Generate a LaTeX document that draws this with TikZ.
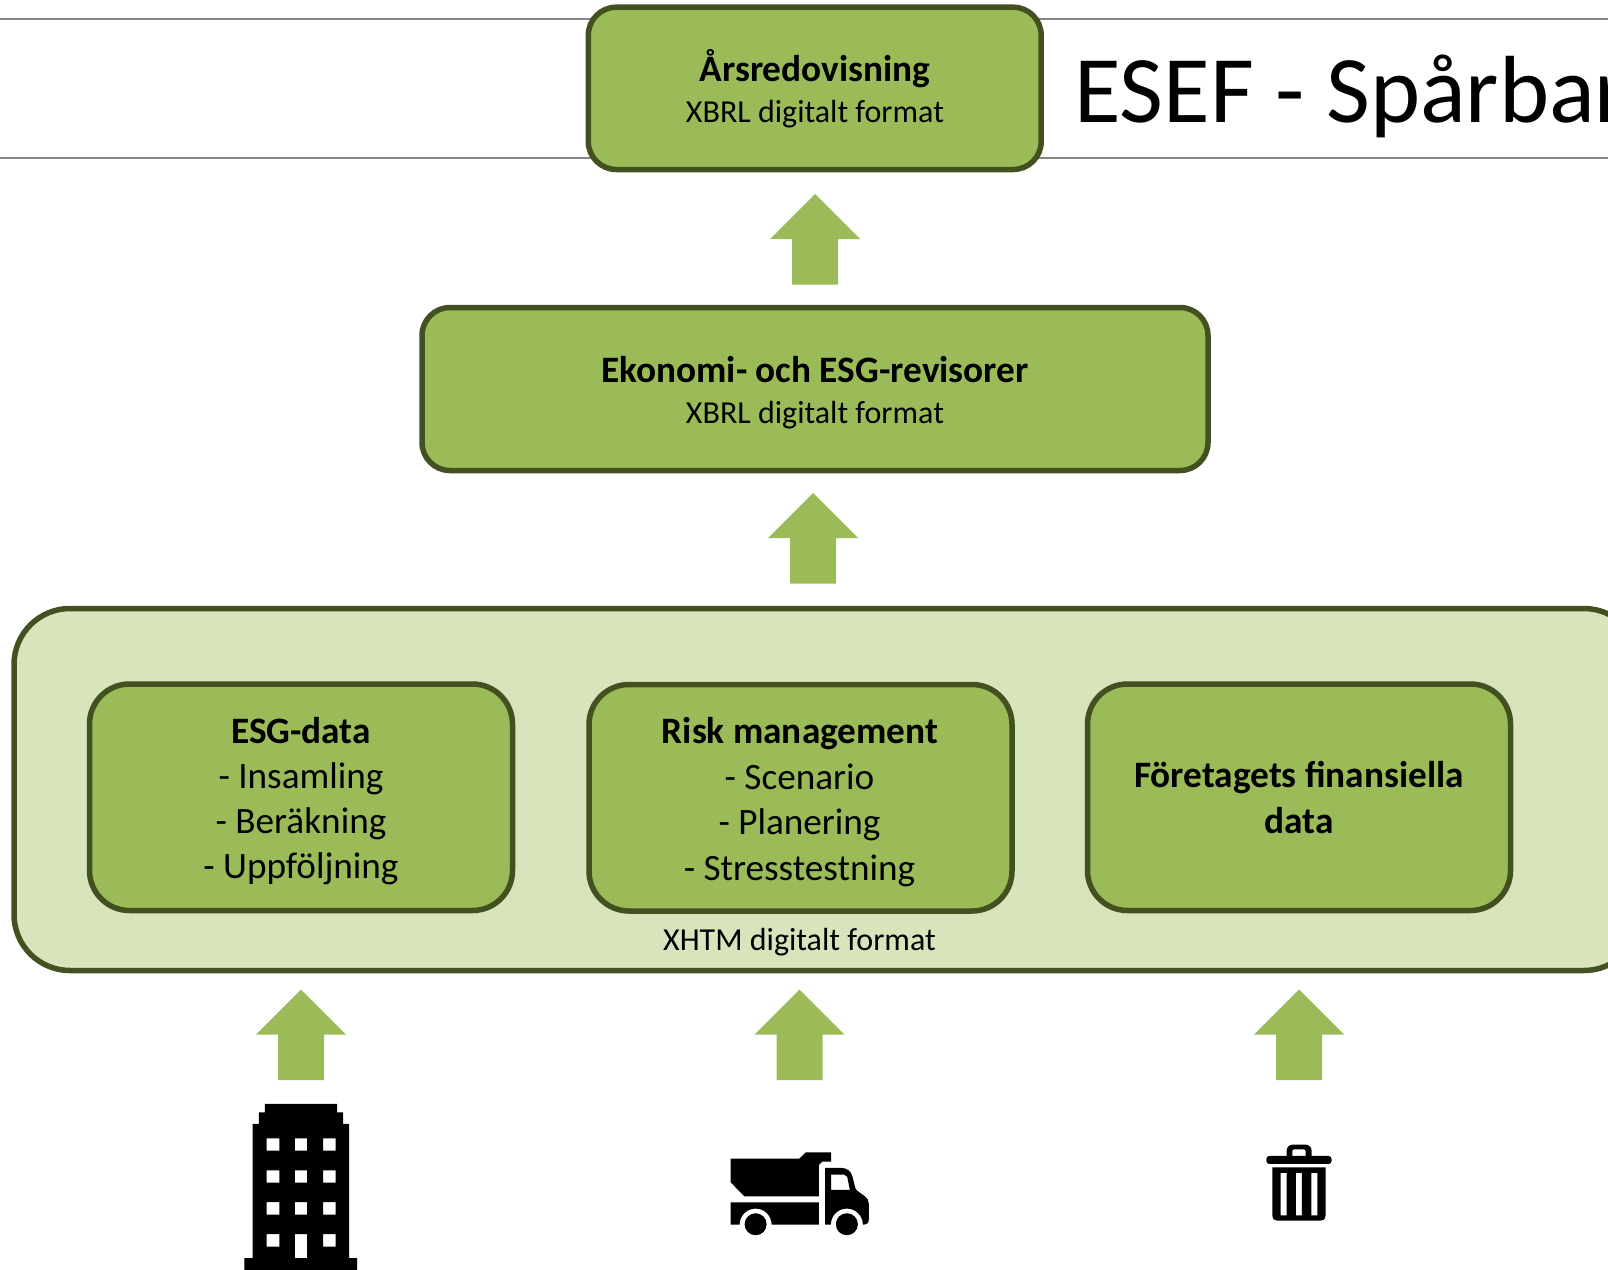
\documentclass[tikz,border=0pt]{standalone}
\usepackage{fontspec}
\setmainfont{Carlito}
\definecolor{leaf}{HTML}{9BBB59}
\definecolor{bark}{HTML}{435020}
\definecolor{pale}{HTML}{D8E4BC}
\definecolor{rulegray}{HTML}{868686}
\tikzset{
 x=1pt,y=-1pt,
 card/.style={draw=bark,line width=5.5pt,fill=leaf,rounded corners=28pt},
 tallcard/.style={draw=bark,line width=5.5pt,fill=leaf,rounded corners=40pt},
 panel/.style={draw=bark,line width=5.5pt,fill=pale,rounded corners=56pt},
 head/.style={anchor=base,inner sep=0pt,font=\fontsize{37.3}{44}\selectfont\bfseries},
 body/.style={anchor=base,inner sep=0pt,font=\fontsize{37.2}{44}\selectfont},
 small/.style={anchor=base,inner sep=0pt,font=\fontsize{32}{38}\selectfont},
 uparrow/.pic={\fill[leaf] (0,0) -- (45,45) -- (23,45) -- (23,90.5) -- (-23,90.5) -- (-23,45) -- (-45,45) -- cycle;},
}
\begin{document}
\begin{tikzpicture}
\useasboundingbox (0,0) rectangle (1608,1269);
\clip (0,0) rectangle (1608,1269);
\coordinate (rl1) at (0,19); \coordinate (rr1) at (1608,19);
\coordinate (rl2) at (0,158); \coordinate (rr2) at (1608,158);
\draw[rulegray,line width=2pt] (rl1) -- (rr1);
\draw[rulegray,line width=2pt] (rl2) -- (rr2);
\node[anchor=base west,inner sep=0pt,font=\fontsize{95.4}{110}\selectfont] (title) at (1074,122) {ESEF - Spårbar};
% top box
\draw[card] (588.3,7.2) rectangle (1041.2,169.5);
\node[head] (t1) at (815,81.5) {Årsredovisning};
\node[small] (t2) at (815,122) {XBRL digitalt format};
\pic at (815,194) {uparrow};
% second box
\draw[card] (422,307.5) rectangle (1208,470.5);
\node[head] (e1) at (815,382.5) {Ekonomi- och ESG-revisorer};
\node[small] (e2) at (815,423) {XBRL digitalt format};
\pic at (813,493) {uparrow};
% panel
\draw[panel] (14,608.5) rectangle (1640,970.5);
\draw[tallcard] (89.5,684) rectangle (512.5,910.5);
\draw[tallcard] (589,684.5) rectangle (1012,911);
\draw[tallcard] (1087.5,684) rectangle (1510.5,910.5);
\node[head] (a1) at (301,743.5) {ESG-data};
\node[body] (a2) at (301,788) {- Insamling};
\node[body] (a3) at (301,833) {- Beräkning};
\node[body] (a4) at (301,878.5) {- Uppföljning};
\node[head] (b1) at (800,743.5) {Risk management};
\node[body] (b2) at (799.5,789) {- Scenario};
\node[body] (b3) at (799.5,834) {- Planering};
\node[body] (b4) at (799.5,880) {- Stresstestning};
\node[head] (c1) at (1299,787.5) {Företagets finansiella};
\node[head] (c2) at (1299,833) {data};
\node[small] (x1) at (799.5,950) {XHTM digitalt format};
\pic at (301,989.5) {uparrow};
\pic at (799.5,989.5) {uparrow};
\pic at (1299,989.5) {uparrow};
% building
\begin{scope}[shift={(200,1080)},x=0.333pt,y=-0.333pt]
\fill[black,even odd rule]
 (195,72) -- (412,72) -- (412,97) -- (430,97) -- (430,132) -- (448,132) -- (448,535) -- (472,535) -- (472,580) -- (133,580) -- (133,535) -- (158,535) -- (158,132) -- (177,132) -- (177,97) -- (195,97) -- cycle
 (200,175) rectangle (238,212) (285,175) rectangle (322,212) (370,175) rectangle (407,212)
 (200,271) rectangle (238,308) (285,271) rectangle (322,308) (370,271) rectangle (407,308)
 (200,367) rectangle (238,404) (285,367) rectangle (322,404) (370,367) rectangle (407,404)
 (200,463) rectangle (238,500) (285,463) rectangle (322,535) (370,463) rectangle (407,500);
\end{scope}
% truck
\begin{scope}[shift={(710,1130)},x=0.333pt,y=-0.333pt]
\fill[black] (62,86) -- (268,86) -- (288,67) -- (364,67) -- (364,95) -- (337,95) -- (327,105) -- (327,199) -- (103,199) -- (62,157) -- cycle;
\fill[black] (62,217) -- (327,217) -- (327,284) -- (185,284) arc[start angle=0,end angle=180,radius=16pt] -- (62,284) -- cycle;
\fill[black] (137,283) circle[radius=11pt];
\fill[black,even odd rule] (346,114) -- (395,114) .. controls (412,114) and (424,124) .. (428,140) -- (434,165) .. controls (436,178) and (440,182) .. (447,186) -- (465,199) .. controls (473,205) and (477,212) .. (477,222) -- (477,268) .. controls (477,278) and (472,284) .. (462,284) -- (459,284) arc[start angle=0,end angle=180,radius=16pt] -- (346,284) -- cycle
 (364,134) -- (403,134) -- (412,140) -- (420,180) -- (364,180) -- cycle;
\fill[black] (411,283) circle[radius=11pt];
\end{scope}
% bin
\begin{scope}[shift={(1240,1130)},x=0.333pt,y=-0.333pt]
\fill[black,rounded corners=3pt] (79,78) rectangle (275,102);
\fill[black,even odd rule] (140,80) -- (140,62) .. controls (140,52) and (148,44) .. (158,44) -- (197,44) .. controls (207,44) and (215,52) .. (215,62) -- (215,80) -- cycle
 (157,80) -- (157,64) .. controls (157,60) and (159,58) .. (163,58) -- (191,58) .. controls (195,58) and (197,60) .. (197,64) -- (197,80) -- cycle;
\fill[black,even odd rule] (97,112) -- (257,112) -- (257,258) .. controls (257,267) and (251,272) .. (243,272) -- (111,272) .. controls (103,272) and (97,267) .. (97,258) -- cycle
 (122,129) rectangle (140,256) (168,129) rectangle (186,256) (214,129) rectangle (232,256);
\end{scope}
\end{tikzpicture}
\end{document}
